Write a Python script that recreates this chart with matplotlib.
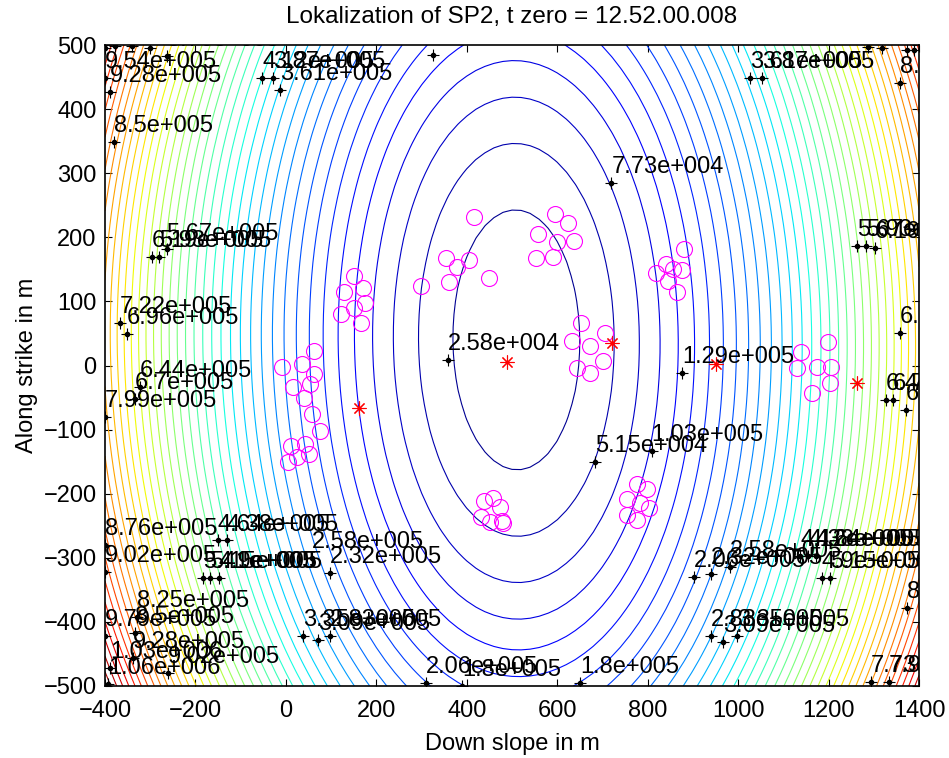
import numpy as np
import matplotlib
matplotlib.use("Agg")
import matplotlib.pyplot as plt
from matplotlib.transforms import ScaledTranslation

plt.rcParams['font.family'] = ['Liberation Sans', 'DejaVu Sans']

# ---- misfit surface model (down slope x, along strike y, in m) ----
x_center = 510.0          # x of the minimum at y = 0
x_center_tilt = -0.01     # shift of the minimum per metre along strike
y_center = 40.0
misfit_floor = 7000.0
coef_xx = 0.95
coef_yy = 0.4424
coef_yyyy = 3.34e-7
coef_xxyy = 5.0e-7

grid_x = np.arange(-400, 1401, 20)
grid_y = np.arange(-500, 501, 20)

level_step = 25771.0
level_index = np.arange(1, 42)

# ---- picked events (magenta circles) ----
event_x = [62, -8, 35, 63, 16, 53, 39, 58, 75, 11, 42, 25, 50, 5,
           151, 170, 129, 175, 151, 121, 166,
           416, 353, 406, 378, 298, 361, 449,
           595, 623, 557, 599, 636, 552, 590,
           653, 706, 633, 673, 643, 673, 702,
           880, 840, 818, 857, 875, 844, 864,
           439, 459, 474, 432, 451, 477, 481,
           777, 799, 754, 782, 802, 754, 777,
           1139, 1198, 1130, 1174, 1206, 1203, 1163]
event_y = [23, -2, 2, -14, -34, -29, -50, -76, -102, -125, -122, -143, -138, -151,
           139, 121, 115, 97, 89, 80, 66,
           231, 167, 165, 153, 124, 130, 136,
           237, 223, 205, 193, 194, 167, 170,
           67, 50, 38, 30, -4, -11, 7,
           182, 159, 145, 150, 149, 132, 115,
           -211, -207, -221, -237, -244, -242, -246,
           -185, -193, -209, -214, -222, -233, -241,
           21, 37, -4, -3, -2, -28, -43]

# ---- stations (red asterisks) ----
station_x = [488, 722, 162, 951, 1262]
station_y = [6, 35, -67, 3, -27]

# ---- contour labels: position and level number ----
label_x = [-400, -378, -341, -300, -264, -400, -389, -380, -52, -28, -13, 326,
           -297, -280, -264, -367, -352, -323, -334, -400,
           359, 720, 684, 809, 877,
           1026, 1052, 1288, 1318, 1374, 1388, 1358,
           1264, 1282, 1303, 1358, 1326, 1343, 1371,
           903, 939, 981, 1137, 1155, 1172, 1185, 1203, 1374,
           939, 966, 998, 1293, 1334, 650,
           -151, -131, -184, -168, -149, 58, 98,
           -400, -400, -330, -334, -400, -338, -389, -393, -260,
           38, 72, 98, 310, 389]
label_y = [495, 498, 498, 496, 483, 448, 427, 348, 448, 448, 430, 484,
           170, 170, 181, 67, 49, -33, -52, -80,
           9, 284, -150, -134, -12,
           448, 448, 497, 495, 492, 492, 440,
           186, 186, 184, 50, -54, -54, -70,
           -330, -326, -315, -297, -297, -297, -332, -332, -379,
           -422, -431, -422, -494, -494, -496,
           -273, -273, -332, -332, -332, -300, -323,
           -280, -322, -392, -417, -422, -456, -472, -497, -480,
           -422, -428, -422, -496, -500]
label_level = [38, 37, 36, 35, 34, 37, 36, 33, 16, 15, 14, 6,
               24, 23, 22, 28, 27, 25, 26, 31,
               1, 3, 2, 4, 5,
               14, 15, 30, 31, 33, 34, 33,
               22, 23, 24, 26, 25, 26, 27,
               8, 9, 10, 16, 17, 18, 19, 20, 33,
               11, 12, 13, 30, 31, 7,
               18, 17, 21, 20, 19, 10, 9,
               34, 35, 32, 33, 38, 36, 40, 41, 35,
               13, 12, 11, 8, 7]

x_ticks = np.arange(-400, 1401, 200)
y_ticks = np.arange(-500, 501, 100)


def matlab_label(value):
    """Format like MATLAB's %.3g with a three digit exponent."""
    s = '%.3g' % value
    if 'e' in s:
        mant, ex = s.split('e')
        return '%se%s%03d' % (mant, ex[0], int(ex[1:]))
    return s


gx, gy = np.meshgrid(grid_x, grid_y)
dx = gx - (x_center + x_center_tilt * gy)
dy = gy - y_center
misfit = (misfit_floor + coef_xx * dx**2 + coef_yy * dy**2
          + coef_yyyy * dy**4 + coef_xxyy * dx**2 * dy**2)

levels = level_step * level_index

fig = plt.figure(figsize=(9.49, 7.58), dpi=100)
ax = fig.add_axes([105 / 949, 1 - 686 / 758, 814 / 949, 641 / 758])

ax.contour(gx, gy, misfit, levels=levels, cmap='jet',
           vmin=misfit.min(), vmax=misfit.max(), linewidths=0.8)

ax.plot(event_x, event_y, 'o', mfc='none', mec=(1, 0, 1), ms=11.5, mew=0.8,
        linestyle='none')
ax.plot(station_x, station_y, marker=(8, 2, 0), color='red', ms=10, mew=0.8,
        linestyle='none')

ax.plot(label_x, label_y, '+', color='k', ms=8, mew=0.8, linestyle='none')
ax.plot(label_x, label_y, '.', color='k', ms=6, linestyle='none')
text_shift = ax.transData + ScaledTranslation(0, 11.5 / 72, fig.dpi_scale_trans)
for lx, ly, k in zip(label_x, label_y, label_level):
    t = ax.text(lx, ly, matlab_label(k * level_step), transform=text_shift,
                ha='left', va='center', fontsize=17, color='k')
    t.set_clip_box(ax.bbox)
    t.set_clip_on(True)

ax.set_xlim(-400, 1400)
ax.set_ylim(-500, 500)
ax.set_xticks(x_ticks)
ax.set_yticks(y_ticks)
ax.tick_params(direction='in', length=5, width=0.8, labelsize=17,
               top=True, right=True)
ax.tick_params(axis='x', pad=10)
ax.tick_params(axis='y', pad=6)
for sp in ax.spines.values():
    sp.set_linewidth(1.2)

ax.set_title('Lokalization of SP2, t zero = 12.52.00.008', fontsize=17.5, pad=16)
ax.set_xlabel('Down slope in m', fontsize=17, labelpad=8)
ax.set_ylabel('Along strike in m', fontsize=17, labelpad=4)

fig.savefig('out.png', dpi=100, facecolor='white')
